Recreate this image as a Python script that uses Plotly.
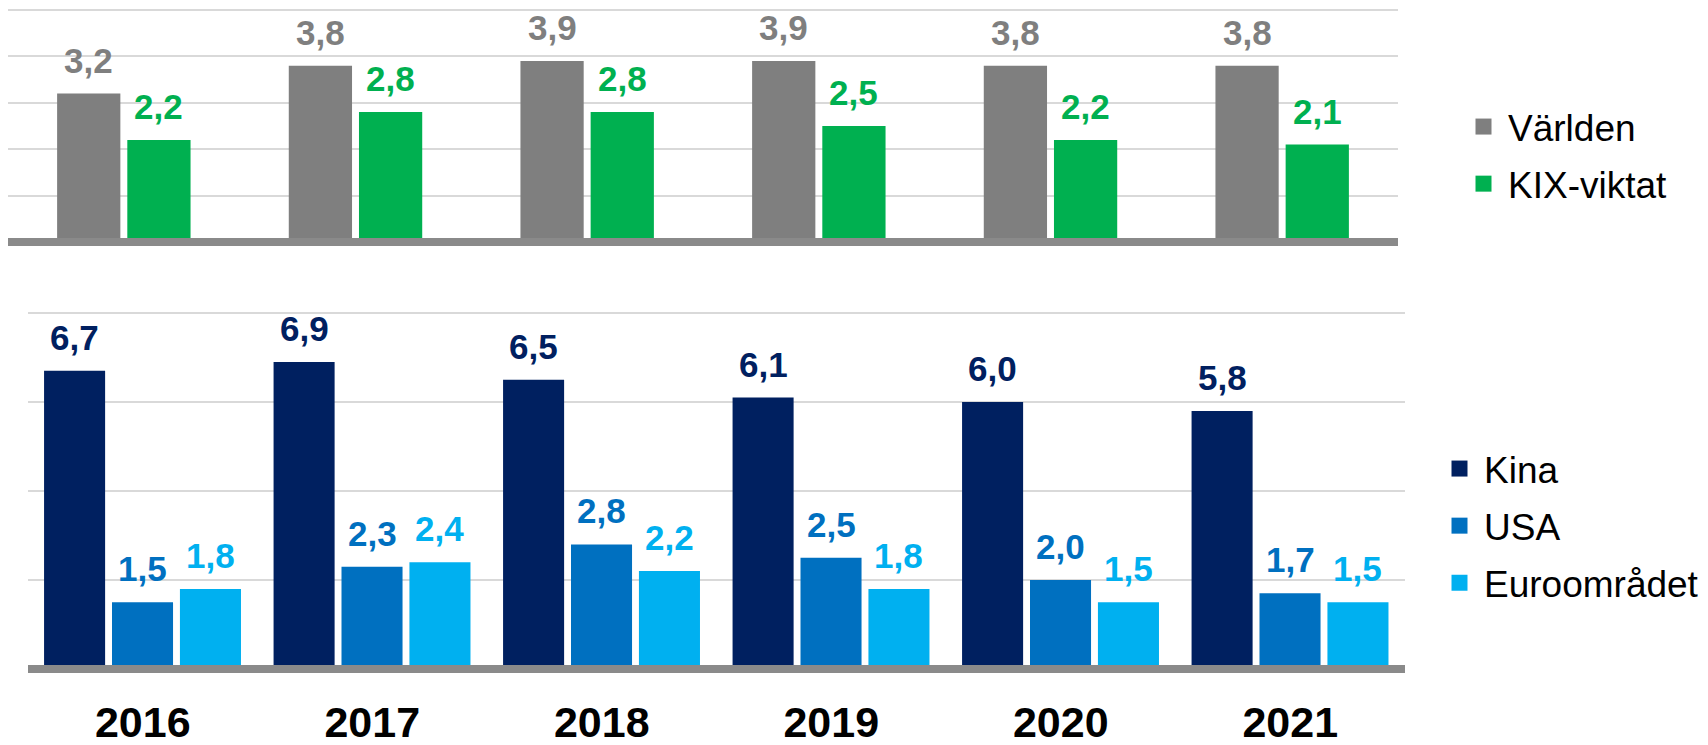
import plotly.graph_objects as go

# ---- data ----
years = ["2016", "2017", "2018", "2019", "2020", "2021"]
varlden = [3.2, 3.8, 3.9, 3.9, 3.8, 3.8]
kix = [2.2, 2.8, 2.8, 2.5, 2.2, 2.1]
kina = [6.7, 6.9, 6.5, 6.1, 6.0, 5.8]
usa = [1.5, 2.3, 2.8, 2.5, 2.0, 1.7]
euro = [1.8, 2.4, 2.2, 1.8, 1.5, 1.5]

top_names = ["Världen", "KIX-viktat"]
bottom_names = ["Kina", "USA", "Euroområdet"]

# ---- style ----
FONT = "Arial, Liberation Sans, sans-serif"
C_GRAY, C_GREEN = "#7F7F7F", "#00B050"
C_NAVY, C_USA, C_EURO = "#002060", "#0070C0", "#00B0F0"
GRID = "#D9D9D9"
AXIS = "#8A8A8A"
PAGE_W, PAGE_H = 1708, 745
BODY = 8  # default page body margin
W, H = PAGE_W - BODY, PAGE_H - BODY


def px_x(v):  # page pixel -> paper x
    return min(1.0, max(0.0, (v - BODY) / W))


def px_y(v):  # page pixel -> paper y
    return min(1.0, max(0.0, 1 - (v - BODY) / H))


top_series = [(top_names[0], varlden, C_GRAY, -0.288), (top_names[1], kix, C_GREEN, 0.015)]
top_w = 0.273
bot_series = [(bottom_names[0], kina, C_NAVY, -0.430), (bottom_names[1], usa, C_USA, -0.134),
              (bottom_names[2], euro, C_EURO, 0.162)]
bot_w = 0.266

fig = go.Figure()
annotations = []


def fmt(v):
    return f"{v:.1f}".replace(".", ",")


def add_group(series, width, xa, ya, legend):
    for name, vals, color, off in series:
        fig.add_trace(go.Bar(x=years, y=vals, width=width, offset=off, marker_color=color,
                             marker_line_width=0, showlegend=False, xaxis=xa, yaxis=ya,
                             hoverinfo="x+y"))
        fig.add_trace(go.Scatter(x=[None], y=[None], mode="markers", name=name,
                                 marker=dict(symbol="square", size=16, color=color),
                                 legend=legend, legendgroup=name, xaxis=xa, yaxis=ya))
        for i, v in enumerate(vals):
            annotations.append(dict(x=i + off + width / 2, y=v, xref=xa, yref=ya, text=fmt(v),
                                    showarrow=False, yanchor="bottom", yshift=12,
                                    font=dict(family=FONT, size=35, color=color, weight="bold")))


add_group(top_series, top_w, "x", "y", "legend")
add_group(bot_series, bot_w, "x2", "y2", "legend2")

# page-pixel geometry of the two panels (zero line and unit size)
top_zero_px, top_unit = 242, 46.4
bot_zero_px, bot_unit = 669, 44.5
top_max, bot_max = 5.04, 8.04

fig.update_layout(
    width=W, height=H, autosize=False,
    margin=dict(l=0, r=0, t=0, b=0, autoexpand=False),
    paper_bgcolor="white", plot_bgcolor="white",
    barmode="overlay",
    font=dict(family=FONT, color="black"),
    annotations=annotations,
    xaxis=dict(domain=[px_x(8), px_x(1398)], anchor="free", position=px_y(top_zero_px),
               type="category", range=[-0.5, 5.5], showline=True, linewidth=8, linecolor=AXIS,
               showticklabels=False, ticks="", showgrid=False, zeroline=False, automargin=False),
    yaxis=dict(domain=[px_y(top_zero_px), px_y(top_zero_px - top_max * top_unit)],
               range=[0, top_max], dtick=1, showgrid=True, gridcolor=GRID, gridwidth=1.5,
               showticklabels=False, zeroline=False, ticks="", anchor="x", automargin=False),
    xaxis2=dict(domain=[px_x(28), px_x(1405)], anchor="free", position=px_y(bot_zero_px),
                type="category", range=[-0.5, 5.5], showline=True, linewidth=8, linecolor=AXIS,
                ticks="", showgrid=False, zeroline=False, ticklabelstandoff=12, automargin=False,
                tickfont=dict(family=FONT, size=43, color="black", weight="bold")),
    yaxis2=dict(domain=[px_y(bot_zero_px), px_y(bot_zero_px - bot_max * bot_unit)],
                range=[0, bot_max], dtick=2, showgrid=True, gridcolor=GRID, gridwidth=1.5,
                showticklabels=False, zeroline=False, ticks="", anchor="x2", automargin=False),
    legend=dict(x=px_x(1459), xanchor="left", y=px_y(155.5), yanchor="middle",
                font=dict(family=FONT, size=37, color="black"), tracegroupgap=6,
                bgcolor="rgba(0,0,0,0)", itemwidth=39),
    legend2=dict(x=px_x(1435), xanchor="left", y=px_y(526), yanchor="middle",
                 font=dict(family=FONT, size=37, color="black"), tracegroupgap=6,
                 bgcolor="rgba(0,0,0,0)", itemwidth=39),
)

fig.write_html("out.html")
